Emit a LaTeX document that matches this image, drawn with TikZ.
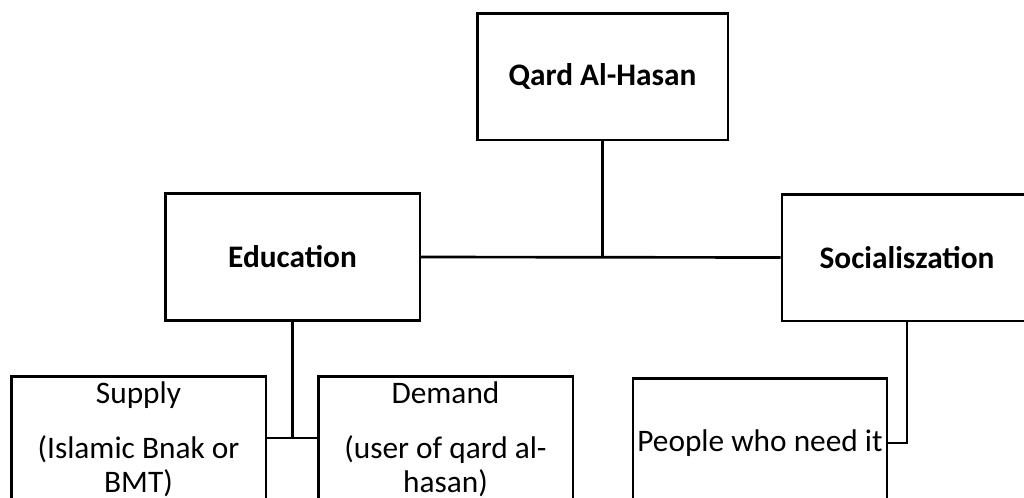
\documentclass[tikz,border=0pt]{standalone}
\usepackage{fontspec}
\setmainfont{Carlito}
\tikzset{
	box/.style={draw, line width=2pt, minimum width=191pt, minimum height=95pt, inner sep=0pt, font=\fontsize{23.5}{30}\selectfont\bfseries},
	leaf/.style={box, minimum height=94.5pt, align=center, font=\fontsize{23.5}{26}\selectfont},
	link/.style={line width=2pt}
}
\begin{document}
\begin{tikzpicture}[x=0.75pt, y=-0.75pt]
					\useasboundingbox (0,0) rectangle (1024,497);
					\clip (0,0) rectangle (1024,497);
					\node[box, minimum width=188pt] (qard) at (602.5,76.5) {Qard Al-Hasan};
					\node[box] (edu) at (292.5,257) {Education};
					\node[box, minimum width=187.5pt] (soc) at (907,257.5) {Socialiszation};
					\node[leaf, anchor=north] (supply) at (138.5,375) {Supply\\[15pt](Islamic Bnak or\\BMT)};
					\node[leaf, anchor=north] (demand) at (445.5,375) {Demand\\[15pt](user of qard al-\\hasan)};
					\node[leaf, anchor=north, minimum width=190.5pt, minimum height=97pt] (people) at (760,377) {People who need it};
					\coordinate (edujoin) at (292.5,438);
					\draw[link] (edu.east) -- (soc.west);
					\draw[link] (qard.south) -- (qard.south |- edu.east);
					\draw[link] (edu.south) -- (edujoin);
					\draw[link] (supply.east |- edujoin) -- (demand.west |- edujoin);
					\draw[link] (soc.south) |- (people.east);
				\end{tikzpicture}
\end{document}
